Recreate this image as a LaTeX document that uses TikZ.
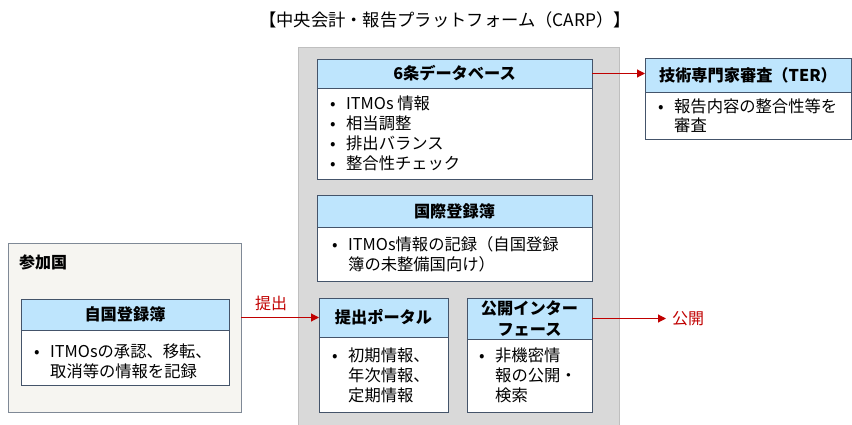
\documentclass[tikz,border=0pt]{standalone}
\usepackage{fontspec}
\setmainfont{Noto Sans CJK JP}
\usetikzlibrary{arrows.meta}
\definecolor{hdrblue}{RGB}{190,229,253}
\definecolor{edgec}{RGB}{68,84,106}
\definecolor{plat}{RGB}{217,217,217}
\definecolor{platedge}{RGB}{191,191,191}
\definecolor{ctry}{RGB}{246,245,241}
\definecolor{ctryedge}{RGB}{127,137,150}
\definecolor{redc}{RGB}{192,0,0}
\newcommand{\bl}{\makebox[16pt][l]{•}}
\newcommand{\ind}{\makebox[16pt]{}}
\tikzset{
  box/.style={anchor=north west, inner sep=0pt, outer sep=0pt},
  hdr/.style={box, draw=edgec, fill=hdrblue, line width=0.9pt},
  bodybox/.style={box, draw=edgec, fill=white, line width=0.9pt},
  hdrtext/.style={inner sep=0pt, font=\bfseries\fontsize{16.2}{20.5}\selectfont, align=center},
  bodytext/.style={anchor=base west, inner sep=0pt, font=\fontsize{16.3}{20}\selectfont, align=left},
  redarrow/.style={draw=redc, line width=1.1pt, -{Triangle[length=8pt,width=8pt]}},
  redlabel/.style={text=redc, inner sep=0pt, font=\fontsize{16}{20}\selectfont},
}
\begin{document}
\begin{tikzpicture}[x=1pt,y=-1pt]
\useasboundingbox (0,0) rectangle (852,425);
% platform
\node[box, draw=platedge, fill=plat, line width=0.9pt, minimum width=321pt, minimum height=380pt] (carp) at (298,47) {};
\node[inner sep=0pt, font=\fontsize{17.3}{22}\selectfont] (title) at (445,20) {【中央会計・報告プラットフォーム（CARP）】};
% 6条データベース
\node[hdr, minimum width=275pt, minimum height=29pt] (dbh) at (317,59) {};
\node[hdrtext] (dbht) at (dbh.center) {6条データベース};
\node[bodybox, minimum width=275pt, minimum height=91pt] (dbb) at (317,88) {};
\node[bodytext] (dbt) at (330,170) {\bl ITMOs 情報\\\bl 相当調整\\\bl 排出バランス\\\bl 整合性チェック};
% 国際登録簿
\node[hdr, minimum width=275pt, minimum height=32pt] (inh) at (317,195) {};
\node[hdrtext] (inht) at (inh.center) {国際登録簿};
\node[bodybox, minimum width=275pt, minimum height=54pt] (inb) at (317,227) {};
\node[bodytext] (int) at (332,270) {\bl ITMOs情報の記録（自国登録\\\ind 簿の未整備国向け）};
% 提出ポータル
\node[hdr, minimum width=129pt, minimum height=39pt] (poh) at (319,298) {};
\node[hdrtext] (poht) at (poh.center) {提出ポータル};
\node[bodybox, minimum width=129pt, minimum height=75pt] (pob) at (319,337) {};
\node[bodytext] (pot) at (332,401) {\bl 初期情報、\\\ind 年次情報、\\\ind 定期情報};
% 公開インターフェース
\node[hdr, minimum width=125pt, minimum height=41pt] (puh) at (467,298) {};
\node[hdrtext] (puht) at (puh.center) {公開インター\\フェース};
\node[bodybox, minimum width=125pt, minimum height=73pt] (pub) at (467,339) {};
\node[bodytext] (put) at (479,401) {\bl 非機密情\\\ind 報の公開・\\\ind 検索};
% 参加国
\node[box, draw=ctryedge, fill=ctry, line width=0.9pt, minimum width=233pt, minimum height=169pt] (ctryb) at (8,243) {};
\node[anchor=west, inner sep=0pt, font=\bfseries\fontsize{16}{20}\selectfont] (ctryl) at (19,262) {参加国};
\node[hdr, minimum width=208pt, minimum height=31pt] (owh) at (21,299) {};
\node[hdrtext] (owht) at (owh.center) {自国登録簿};
\node[bodybox, minimum width=208pt, minimum height=55pt] (owb) at (21,330) {};
\node[bodytext] (owt) at (34,377) {\bl ITMOsの承認、移転、\\\ind 取消等の情報を記録};
% TER
\node[hdr, minimum width=206pt, minimum height=34pt] (teh) at (645,58) {};
\node[hdrtext] (teht) at (teh.center) {技術専門家審査（TER）};
\node[bodybox, minimum width=206pt, minimum height=47pt] (teb) at (645,92) {};
\node[bodytext] (tet) at (658,132) {\bl 報告内容の整合性等を\\\ind 審査};
% arrows
\draw[redarrow] (dbh.east) -- (dbh.east -| teh.west);
\draw[redarrow] (poh.west -| ctryb.east) -- (poh.west);
\node[redlabel] (subl) at (271,303) {提出};
\coordinate (pubend) at (666,318.5);
\draw[redarrow] (puh.east) -- (pubend);
\node[redlabel, anchor=west] (publ) at (672,319) {公開};
\end{tikzpicture}
\end{document}
